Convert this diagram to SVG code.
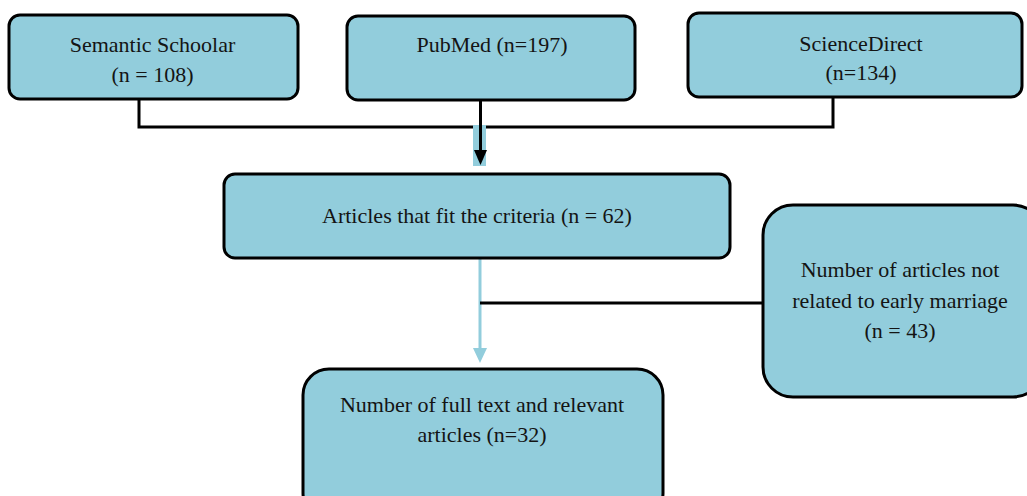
<svg xmlns="http://www.w3.org/2000/svg" width="1027" height="496" viewBox="0 0 1027 496">
<style>
.box{fill:#92CDDC;stroke:#000;stroke-width:3}
.t{font-family:"Liberation Serif","Times New Roman",serif;font-size:22px;fill:#141414;text-anchor:middle}
.ln{fill:none;stroke:#000;stroke-width:3}
.bl{fill:none;stroke:#92CDDC;stroke-width:3}
</style>
<defs>
<marker id="ab" markerWidth="14" markerHeight="16" refX="7" refY="15" orient="auto-start-reverse" markerUnits="userSpaceOnUse" viewBox="0 0 14 16">
<path d="M0,0 L14,0 L7,15 Z" fill="#000"/>
</marker>
</defs>
<rect width="1027" height="496" fill="#fff"/>
<g id="connectors">
<polyline class="ln" points="139,99 139,127 833,127 833,97"/>
<rect x="473" y="125" width="13" height="41" fill="#92CDDC"/>
<line x1="480.5" y1="100" x2="480.5" y2="150" stroke="#000" stroke-width="3"/>
<path d="M474,150 L487,150 L480.5,165 Z" fill="#000"/>
<line class="bl" x1="480" y1="258" x2="480" y2="349"/>
<path d="M473,348 L487,348 L480,363 Z" fill="#92CDDC"/>
<line class="ln" x1="480" y1="303" x2="764" y2="303"/>
</g>
<g id="n-semantic">
<rect class="box" x="9" y="15" width="289" height="84" rx="11"/>
<text class="t" x="152.5" y="52">Semantic Schoolar</text>
<text class="t" x="152.5" y="82">(n = 108)</text>
</g>
<g id="n-pubmed">
<rect class="box" x="347" y="16" width="288" height="84" rx="11"/>
<text class="t" x="492" y="52">PubMed (n=197)</text>
</g>
<g id="n-sciencedirect">
<rect class="box" x="688" y="13" width="334" height="84" rx="11"/>
<text class="t" x="861" y="51">ScienceDirect</text>
<text class="t" x="861" y="80">(n=134)</text>
</g>
<g id="n-criteria">
<rect class="box" x="224" y="174" width="506" height="84" rx="11"/>
<text class="t" x="477" y="223">Articles that fit the criteria (n = 62)</text>
</g>
<g id="n-excluded">
<rect class="box" x="763" y="205" width="280" height="192" rx="30"/>
<text class="t" x="900" y="277">Number of articles not</text>
<text class="t" x="900" y="308">related to early marriage</text>
<text class="t" x="900" y="338">(n = 43)</text>
</g>
<g id="n-fulltext">
<rect class="box" x="303" y="369" width="360" height="150" rx="26"/>
<text class="t" x="482" y="412">Number of full text and relevant</text>
<text class="t" x="482" y="442">articles (n=32)</text>
</g>
</svg>
